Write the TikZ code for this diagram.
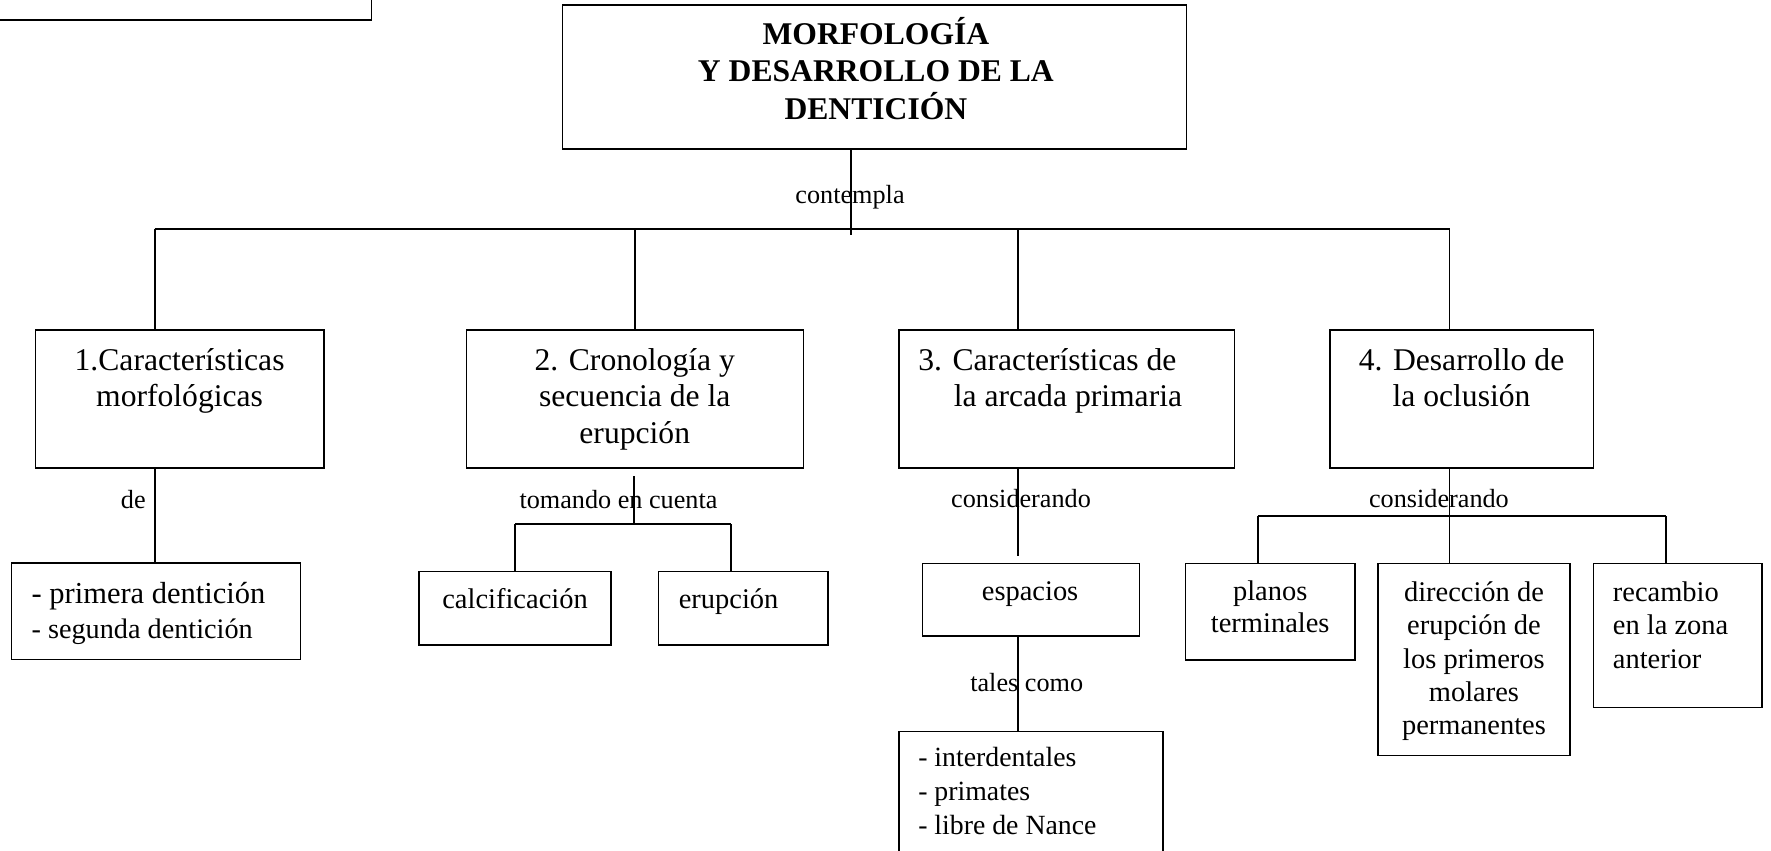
\documentclass[tikz,border=0pt]{standalone}
\usepackage{fontspec}
\setmainfont{Liberation Serif}
\usetikzlibrary{calc}

% stacked lines whose reference point is the first baseline
\newcommand\stack[2]{\begin{tabular}[t]{@{}#1@{}}#2\end{tabular}}

\tikzset{
  conn/.style={line width=0.7pt},
  boxnode/.style={draw, line width=0.7pt, inner sep=0pt, outer sep=0pt, anchor=north west},
  txt/.style={inner sep=0pt, outer sep=0pt, anchor=base},
  txtl/.style={inner sep=0pt, outer sep=0pt, anchor=base west},
  titlefont/.style={font=\fontsize{14pt}{16.25pt}\selectfont\bfseries},
  mainfont/.style={font=\fontsize{14pt}{16.2pt}\selectfont},
  subfont/.style={font=\fontsize{12.6pt}{14.8pt}\selectfont},
  linkfont/.style={font=\fontsize{11.6pt}{13.5pt}\selectfont},
}

\begin{document}
\begin{tikzpicture}[x=0.5pt, y=-0.5pt]
\useasboundingbox (0,0) rectangle (1568,753);
\clip (0,0) rectangle (1568,753);

% ---- boxes ----
\node[boxnode, minimum width=174.5pt, minimum height=28.85pt] (prev) at (-20,-40) {};
\node[boxnode, minimum width=276.3pt, minimum height=63.8pt] (title) at (498,4.4) {};

\node[boxnode, minimum width=127.75pt, minimum height=61.25pt] (b1) at (31.5,292) {};
\node[boxnode, minimum width=149.25pt, minimum height=61.25pt] (b2) at (413,292) {};
\node[boxnode, minimum width=148.65pt, minimum height=61.25pt] (b3) at (795.7,292) {};
\node[boxnode, minimum width=116.75pt, minimum height=61.25pt] (b4) at (1177.5,292) {};

\node[boxnode, minimum width=128pt, minimum height=42.7pt] (l1) at (10,498.6) {};
\node[boxnode, minimum width=85pt, minimum height=32.5pt] (calc) at (371,506) {};
\node[boxnode, minimum width=75pt, minimum height=32.5pt] (erup) at (583,506) {};
\node[boxnode, minimum width=96.1pt, minimum height=32pt] (esp) at (816.8,499) {};
\node[boxnode, minimum width=117.05pt, minimum height=76.2pt] (l3) at (795.7,647.6) {};
\node[boxnode, minimum width=74.95pt, minimum height=42.75pt] (plan) at (1049.7,499) {};
\node[boxnode, minimum width=85pt, minimum height=85pt] (dir) at (1220,499) {};
\node[boxnode, minimum width=74.5pt, minimum height=63.75pt] (rec) at (1411,499) {};

% ---- box texts ----
\node[txt, titlefont] (titlet) at (775.5,39.8)
  {\stack{c}{MORFOLOGÍA\\Y DESARROLLO DE LA\\DENTICIÓN}};
\node[txt, mainfont] (b1t) at (159,327.6) {\stack{c}{1.Características\\morfológicas}};
\node[txt, mainfont] (b2t) at (562,327.6) {\stack{c}{2. Cronología y\\secuencia de la\\erupción}};
\node[txtl, mainfont] (b3t) at (813,327.6)
  {\stack{l}{3. Características de\\\hspace*{15.75pt}la arcada primaria}};
\node[txt, mainfont] (b4t) at (1294,327.6) {\stack{c}{4. Desarrollo de\\la oclusión}};

\node[txtl, font=\fontsize{13.5pt}{15.5pt}\selectfont] (l1a) at (28,534) {- primera dentición};
\node[txtl, font=\fontsize{12.5pt}{15pt}\selectfont] (l1b) at (28,565) {- segunda dentición};

\node[txt, subfont] (calct) at (456,539) {calcificación};
\node[txtl, subfont] (erupt) at (601,539) {erupción};
\node[txt, subfont] (espt) at (912,531.6) {espacios};
\node[txtl, font=\fontsize{12.3pt}{15pt}\selectfont] (l3t) at (813,679)
  {\stack{l}{- interdentales\\- primates\\- libre de Nance}};
\node[txt, font=\fontsize{12.6pt}{14.2pt}\selectfont] (plant) at (1124.6,531.6) {\stack{c}{planos\\terminales}};
\node[txt, subfont] (dirt) at (1305,532.3)
  {\stack{c}{dirección de\\erupción de\\los primeros\\molares\\permanentes}};
\node[txtl, subfont] (rect) at (1428,532.3) {\stack{l}{recambio\\en la zona\\anterior}};

% ---- junction points ----
\coordinate (tj) at (753.2,208);
\coordinate (busL) at (137,202.5);
\coordinate (busR) at (1283.5,202.5);
\coordinate (j3) at (901.5,202.5);
\coordinate (k2) at (561.5,421.5);
\coordinate (f2) at (561.5,464);
\coordinate (f2L) at (456,464);
\coordinate (f2R) at (647,464);
\coordinate (e3) at (901.5,492.7);
\coordinate (f4L) at (1113.6,457);
\coordinate (f4R) at (1474.8,457);

% ---- connectors ----
\draw[conn] (tj |- title.south) -- (tj);
\draw[conn] (busL) -- (busR);
\draw[conn] (busL) -- (busL |- b1.north);
\draw[conn] (b2.north |- busL) -- (b2.north);
\draw[conn] (j3) -- (j3 |- b3.north);
\draw[conn] (busR) -- (busR |- b4.north);

\draw[conn] (busL |- b1.south) -- (busL |- l1.north);

\draw[conn] (k2) -- (f2);
\draw[conn] (f2L) -- (f2R);
\draw[conn] (f2L) -- (calc.north);
\draw[conn] (f2R) -- (f2R |- erup.north);

\draw[conn] (j3 |- b3.south) -- (e3);
\draw[conn] (j3 |- esp.south) -- (j3 |- l3.north);

\draw[conn] (busR |- b4.south) -- (busR |- dir.north);
\draw[conn] (f4L) -- (f4R);
\draw[conn] (f4L) -- (f4L |- plan.north);
\draw[conn] (f4R) -- (f4R |- rec.north);

% ---- link words ----
\node[txt, linkfont] (w1) at (752.6,180) {contempla};
\node[txt, linkfont] (w2) at (118,450) {de};
\node[txt, linkfont] (w3) at (547.6,450) {tomando en cuenta};
\node[txt, linkfont] (w4) at (904,449) {considerando};
\node[txt, linkfont] (w5) at (1274,449) {considerando};
\node[txt, linkfont] (w6) at (909,612.5) {tales como};
\end{tikzpicture}
\end{document}
